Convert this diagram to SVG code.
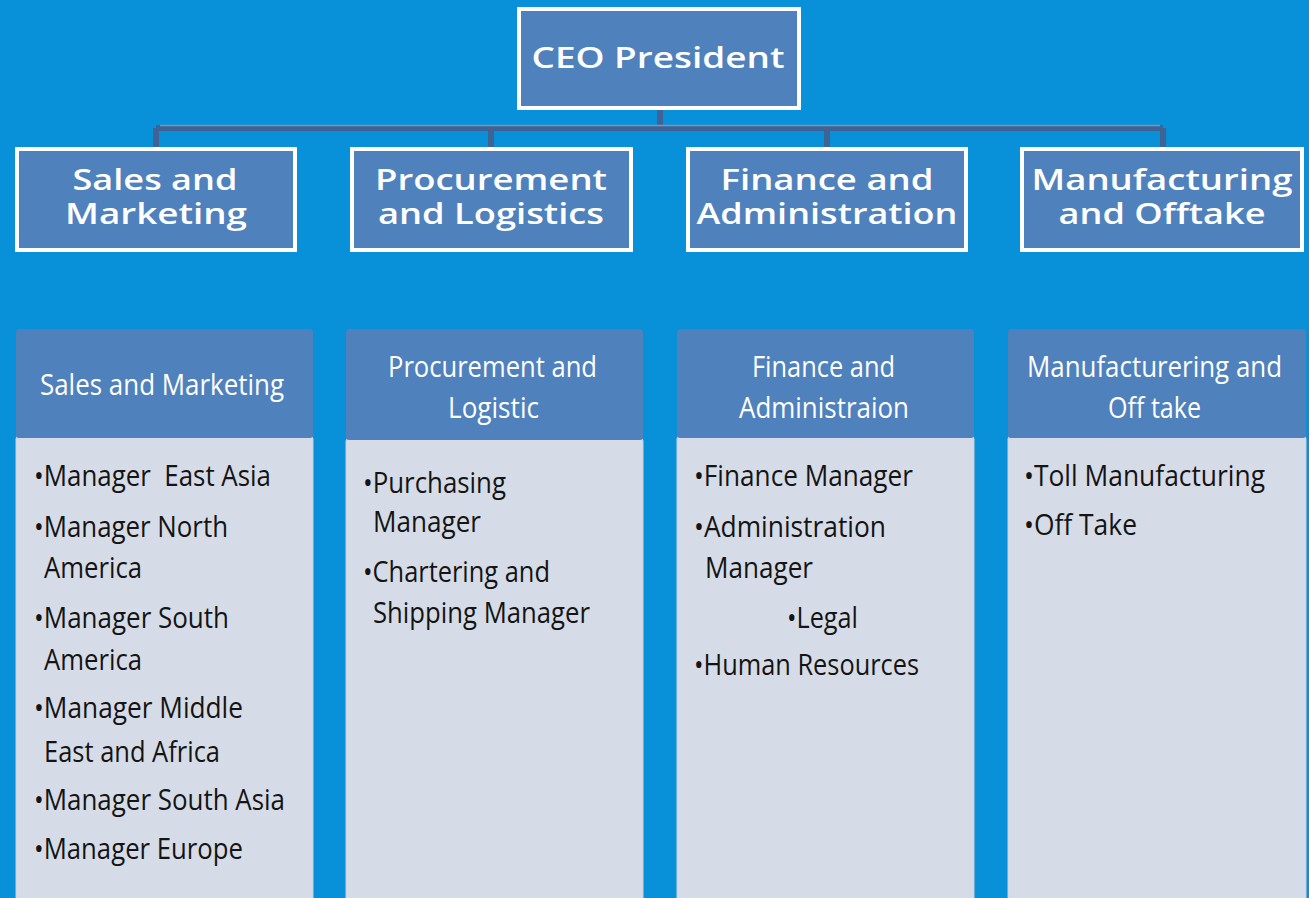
<svg xmlns="http://www.w3.org/2000/svg" width="1309" height="898" viewBox="0 0 1309 898">
<style>
.bg{fill:#0890D9}
.box{fill:#4F81BD;stroke:#FFFFFF;stroke-width:4}
.lvl{font-family:"Open Sans","DejaVu Sans",sans-serif;font-size:28px;font-weight:600;fill:#FFFFFF;text-anchor:middle}
.hdr{fill:#4F81BD}
.body{fill:#D6DCE7;stroke:#C9D1DE;stroke-width:1}
.htxt{font-family:"Liberation Sans Narrow","Open Sans",sans-serif;font-size:30px;fill:#FFFFFF;text-anchor:middle}
.btxt{font-family:"Liberation Sans Narrow","Open Sans",sans-serif;font-size:29px;fill:#141414}
.conn{stroke:#3F6395;stroke-width:6;fill:none}
.conn2{stroke:#7C96B8;stroke-width:1.5;fill:none}
</style>
<rect class="bg" x="0" y="0" width="1309" height="898"/>

<g id="connectors">
  <path class="conn" d="M660 110 V128 M156 128 H1163 M156 128 V147 M491 128 V147 M827 128 V147 M1163 128 V147"/>
  <path class="conn2" d="M160 125.5 H1160"/>
</g>

<g id="ceo">
  <rect class="box" x="519" y="9" width="280" height="99"/>
  <text class="lvl" x="658" y="68" textLength="253" lengthAdjust="spacingAndGlyphs">CEO President</text>
</g>

<g id="sales">
  <rect class="box" x="17" y="149" width="278" height="101"/>
  <text class="lvl" x="155" y="190" textLength="165" lengthAdjust="spacingAndGlyphs">Sales and</text>
  <text class="lvl" x="156" y="224" textLength="182" lengthAdjust="spacingAndGlyphs">Marketing</text>
</g>

<g id="procurement">
  <rect class="box" x="352" y="149" width="279" height="101"/>
  <text class="lvl" x="491" y="190" textLength="232" lengthAdjust="spacingAndGlyphs">Procurement</text>
  <text class="lvl" x="491" y="224" textLength="226" lengthAdjust="spacingAndGlyphs">and Logistics</text>
</g>

<g id="finance">
  <rect class="box" x="688" y="149" width="278" height="101"/>
  <text class="lvl" x="827" y="190" textLength="213" lengthAdjust="spacingAndGlyphs">Finance and</text>
  <text class="lvl" x="827" y="224" textLength="261" lengthAdjust="spacingAndGlyphs">Administration</text>
</g>

<g id="manufacturing">
  <rect class="box" x="1022" y="149" width="280" height="101"/>
  <text class="lvl" x="1162" y="190" textLength="261" lengthAdjust="spacingAndGlyphs">Manufacturing</text>
  <text class="lvl" x="1162" y="224" textLength="207" lengthAdjust="spacingAndGlyphs">and Offtake</text>
</g>

<g id="panel-sales">
  <rect class="body" x="16" y="436" width="297" height="470" rx="3"/>
  <rect class="hdr" x="16" y="329" width="297" height="109" rx="3"/>
  <text class="htxt" x="162" y="395" textLength="244" lengthAdjust="spacingAndGlyphs">Sales and Marketing</text>
  <text class="btxt" x="34" y="486" textLength="237" lengthAdjust="spacingAndGlyphs" xml:space="preserve">•Manager  East Asia</text>
  <text class="btxt" x="34" y="537" textLength="194" lengthAdjust="spacingAndGlyphs">•Manager North</text>
  <text class="btxt" x="44" y="578" textLength="98" lengthAdjust="spacingAndGlyphs">America</text>
  <text class="btxt" x="34" y="628" textLength="195" lengthAdjust="spacingAndGlyphs">•Manager South</text>
  <text class="btxt" x="44" y="670" textLength="98" lengthAdjust="spacingAndGlyphs">America</text>
  <text class="btxt" x="34" y="718" textLength="209" lengthAdjust="spacingAndGlyphs">•Manager Middle</text>
  <text class="btxt" x="44" y="762" textLength="176" lengthAdjust="spacingAndGlyphs">East and Africa</text>
  <text class="btxt" x="34" y="810" textLength="251" lengthAdjust="spacingAndGlyphs">•Manager South Asia</text>
  <text class="btxt" x="34" y="859" textLength="209" lengthAdjust="spacingAndGlyphs">•Manager Europe</text>
</g>

<g id="panel-procurement">
  <rect class="body" x="346" y="438" width="297" height="470" rx="3"/>
  <rect class="hdr" x="346" y="329" width="297" height="111" rx="3"/>
  <text class="htxt" x="492.5" y="377" textLength="209" lengthAdjust="spacingAndGlyphs">Procurement and</text>
  <text class="htxt" x="493.5" y="418" textLength="91" lengthAdjust="spacingAndGlyphs">Logistic</text>
  <text class="btxt" x="363" y="493" textLength="143" lengthAdjust="spacingAndGlyphs">•Purchasing</text>
  <text class="btxt" x="373" y="532" textLength="108" lengthAdjust="spacingAndGlyphs">Manager</text>
  <text class="btxt" x="363" y="582" textLength="187" lengthAdjust="spacingAndGlyphs">•Chartering and</text>
  <text class="btxt" x="373" y="623" textLength="217" lengthAdjust="spacingAndGlyphs">Shipping Manager</text>
</g>

<g id="panel-finance">
  <rect class="body" x="677" y="436" width="297" height="470" rx="3"/>
  <rect class="hdr" x="677" y="329" width="297" height="109" rx="3"/>
  <text class="htxt" x="823.5" y="377" textLength="143" lengthAdjust="spacingAndGlyphs">Finance and</text>
  <text class="htxt" x="824" y="418" textLength="170" lengthAdjust="spacingAndGlyphs">Administraion</text>
  <text class="btxt" x="694" y="486" textLength="219" lengthAdjust="spacingAndGlyphs">•Finance Manager</text>
  <text class="btxt" x="694" y="537" textLength="192" lengthAdjust="spacingAndGlyphs">•Administration</text>
  <text class="btxt" x="705" y="578" textLength="108" lengthAdjust="spacingAndGlyphs">Manager</text>
  <text class="btxt" x="787" y="628" textLength="71" lengthAdjust="spacingAndGlyphs">•Legal</text>
  <text class="btxt" x="694" y="675" textLength="225" lengthAdjust="spacingAndGlyphs">•Human Resources</text>
</g>

<g id="panel-manufacturing">
  <rect class="body" x="1008" y="436" width="298" height="470" rx="3"/>
  <rect class="hdr" x="1008" y="329" width="298" height="109" rx="3"/>
  <text class="htxt" x="1154.5" y="377" textLength="255" lengthAdjust="spacingAndGlyphs">Manufacturering and</text>
  <text class="htxt" x="1154.5" y="418" textLength="93" lengthAdjust="spacingAndGlyphs">Off take</text>
  <text class="btxt" x="1024" y="486" textLength="241" lengthAdjust="spacingAndGlyphs">•Toll Manufacturing</text>
  <text class="btxt" x="1024" y="535" textLength="113" lengthAdjust="spacingAndGlyphs">•Off Take</text>
</g>
</svg>
